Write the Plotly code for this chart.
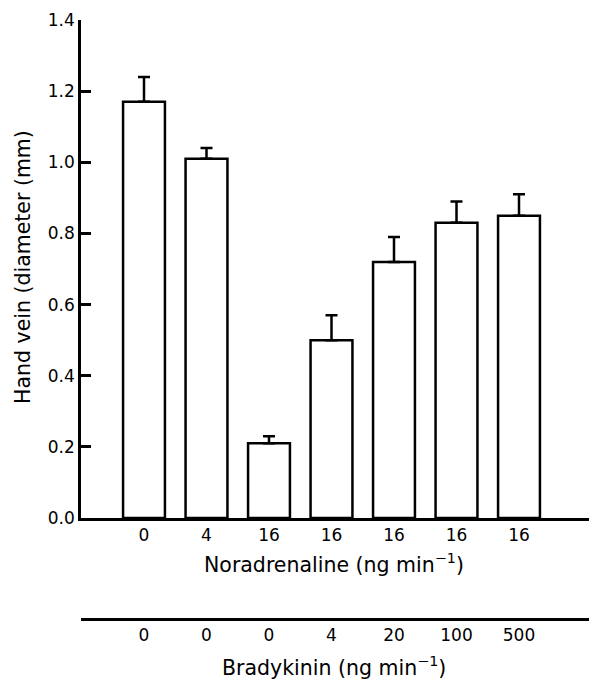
import plotly.graph_objects as go

positions = [0, 1, 2, 3, 4, 5, 6]
noradrenaline_labels = ["0", "4", "16", "16", "16", "16", "16"]
bradykinin_labels = ["0", "0", "0", "4", "20", "100", "500"]
diameter_mm = [1.17, 1.01, 0.21, 0.50, 0.72, 0.83, 0.85]
sem_mm = [0.07, 0.03, 0.02, 0.07, 0.07, 0.06, 0.06]
y_ticks = [0.0, 0.2, 0.4, 0.6, 0.8, 1.0, 1.2, 1.4]

FONT = "DejaVu Sans, Liberation Sans, Arial, sans-serif"
TICK = 17
TITLE = 20.5

fig = go.Figure()
fig.add_trace(go.Bar(
    x=positions, y=diameter_mm, width=0.67,
    marker=dict(color="white", line=dict(color="black", width=2.5)),
    error_y=dict(type="data", array=sem_mm, arrayminus=[0]*len(sem_mm),
                 symmetric=False, color="black", thickness=2.5, width=6),
    showlegend=False,
))
# invisible trace for second (bradykinin) axis
fig.add_trace(go.Scatter(x=positions, y=[None]*len(positions), xaxis="x2",
                         mode="markers", showlegend=False, hoverinfo="skip"))

fig.update_layout(
    width=589, height=680,
    margin=dict(l=81, r=0, t=20, b=61),
    paper_bgcolor="white", plot_bgcolor="white",
    font=dict(family=FONT, color="black", size=TICK),
    xaxis=dict(
        range=[-1.008, 7.12], tickmode="array", tickvals=positions,
        ticktext=noradrenaline_labels, showline=True, linecolor="black",
        linewidth=2.5, ticks="", showgrid=False, zeroline=False,
        tickfont=dict(size=TICK), anchor="y",
    ),
    xaxis2=dict(
        range=[-1.008, 7.12], overlaying="x", anchor="free", position=0,
        side="bottom", tickmode="array", tickvals=positions,
        ticktext=bradykinin_labels, showline=True, linecolor="black",
        linewidth=2.5, ticks="", showgrid=False, zeroline=False,
        tickfont=dict(size=TICK),
    ),
    yaxis=dict(
        domain=[0.1686, 1.0], range=[0, 1.4], tickmode="array",
        tickvals=y_ticks, ticktext=[f"{v:.1f}" for v in y_ticks],
        showline=True, linecolor="black", linewidth=2.5,
        ticks="inside", ticklen=10, tickwidth=2.5, tickcolor="black",
        showgrid=False, zeroline=False, tickfont=dict(size=TICK),
    ),
)

fig.add_annotation(text="Hand vein (diameter (mm)", xref="paper", yref="paper",
                   x=(23 - 81) / 508, y=(619 - 267) / 599, xanchor="center", yanchor="middle",
                   textangle=-90, showarrow=False, font=dict(size=TITLE))
fig.add_annotation(text="Noradrenaline (ng min<sup>−1</sup>)", xref="paper", yref="paper",
                   x=(334 - 81) / 508, y=(619 - 563) / 599, xanchor="center", yanchor="middle",
                   showarrow=False, font=dict(size=TITLE))
fig.add_annotation(text="Bradykinin (ng min<sup>−1</sup>)", xref="paper", yref="paper",
                   x=(334 - 81) / 508, y=(619 - 666) / 599, xanchor="center", yanchor="middle",
                   showarrow=False, font=dict(size=TITLE))

fig.write_html("out.html")
